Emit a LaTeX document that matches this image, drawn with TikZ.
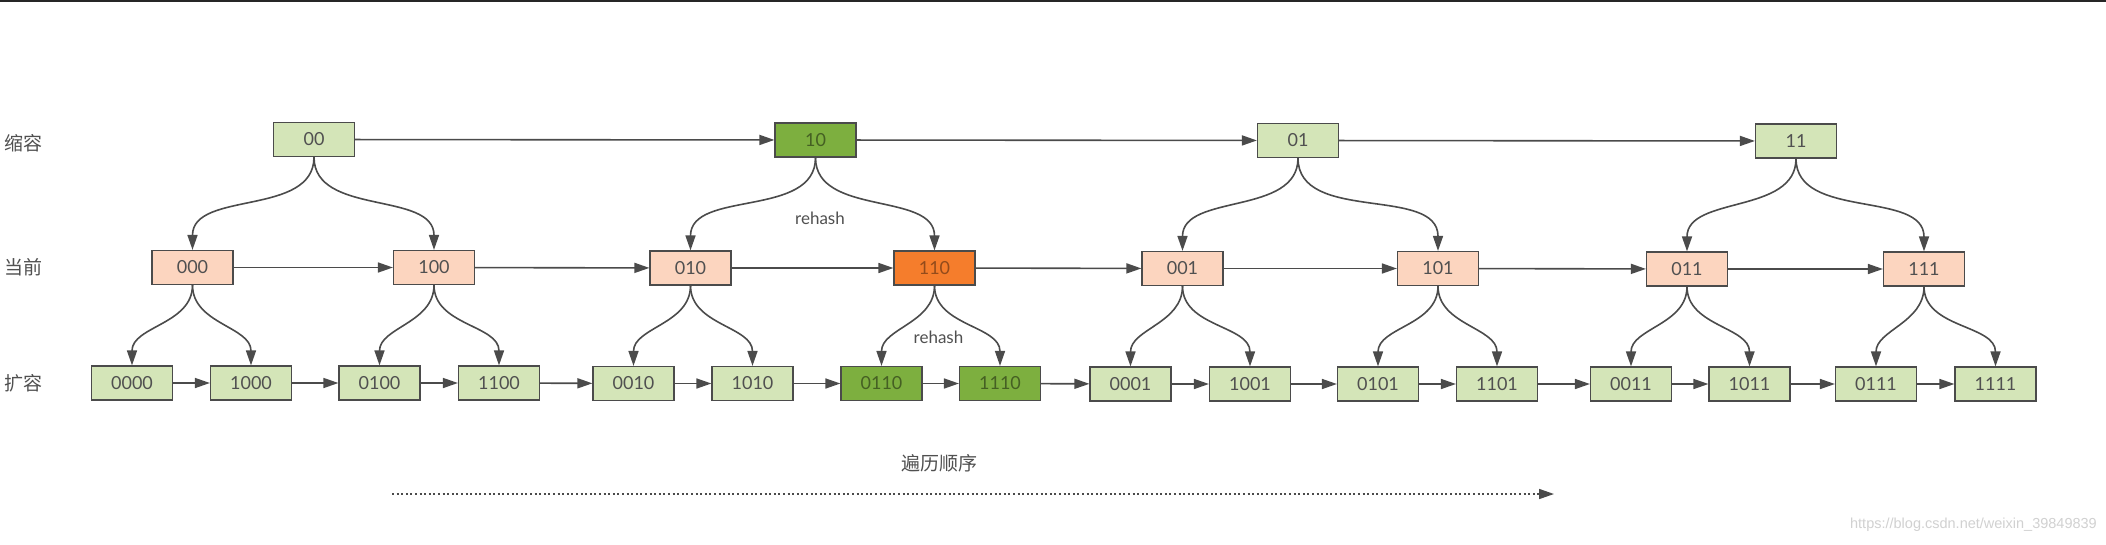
\documentclass[tikz,border=0pt]{standalone}
\usepackage{fontspec}
\setmainfont{Lato}
\newfontfamily\cjk{Noto Sans CJK SC}
\newfontfamily\wmfont{Liberation Sans}
\usetikzlibrary{arrows.meta}
\definecolor{linec}{HTML}{4B4B4B}
\definecolor{txtc}{HTML}{505050}
\definecolor{lgfill}{HTML}{D4E5B8}
\definecolor{dgfill}{HTML}{7DAF3F}
\definecolor{lofill}{HTML}{FCD5BF}
\definecolor{ogfill}{HTML}{F57D2C}
\tikzset{
  box/.style={draw=linec, line width=1.2pt, minimum width=81pt, minimum height=34pt,
    inner sep=0pt, font=\fontsize{18}{20}\selectfont, text=txtc},
  lg/.style={fill=lgfill},
  dg/.style={fill=dgfill, text=black!45!dgfill},
  lo/.style={fill=lofill},
  og/.style={fill=ogfill, text=black!40!ogfill},
  arr/.style={-{Triangle[length=15pt,width=10pt]}, line width=1.6pt, draw=linec},
  rowlab/.style={font=\cjk\fontsize{19}{21}\selectfont, text=txtc},
  note/.style={font=\fontsize{17}{19}\selectfont, text=txtc}
}
\begin{document}
\begin{tikzpicture}[x=1pt,y=-1pt]
\useasboundingbox (0,0) rectangle (2106,544);
\fill[white] (0,0) rectangle (2106,544);
\draw[line width=2pt, black!85] (0,1) -- (2106,1);

% row labels
\node[rowlab] (l1) at (24,143) {缩容};
\node[rowlab] (l2) at (24,267) {当前};
\node[rowlab] (l3) at (24,383) {扩容};

% top row
\node[box,lg] (t00) at (314,139.5) {00};
\node[box,dg] (t10) at (815.5,140) {10};
\node[box,lg] (t01) at (1298,140.5) {01};
\node[box,lg] (t11) at (1796,141) {11};

% middle row
\node[box,lo] (m000) at (192.5,267.5) {000};
\node[box,lo] (m100) at (434,267.5) {100};
\node[box,lo] (m010) at (690.5,268) {010};
\node[box,og] (m110) at (934.5,268) {110};
\node[box,lo] (m001) at (1182.5,268.5) {001};
\node[box,lo] (m101) at (1438,268.5) {101};
\node[box,lo] (m011) at (1687,269) {011};
\node[box,lo] (m111) at (1924,269) {111};

% bottom row
\node[box,lg] (b0000) at (132,383) {0000};
\node[box,lg] (b1000) at (251,383) {1000};
\node[box,lg] (b0100) at (379.5,383) {0100};
\node[box,lg] (b1100) at (499,383) {1100};
\node[box,lg] (b0010) at (633.5,383.5) {0010};
\node[box,lg] (b1010) at (752.5,383.5) {1010};
\node[box,dg] (b0110) at (881.5,383.5) {0110};
\node[box,dg] (b1110) at (1000,383.5) {1110};
\node[box,lg] (b0001) at (1130.5,384) {0001};
\node[box,lg] (b1001) at (1250,384) {1001};
\node[box,lg] (b0101) at (1378,384) {0101};
\node[box,lg] (b1101) at (1497,384) {1101};
\node[box,lg] (b0011) at (1631,384) {0011};
\node[box,lg] (b1011) at (1749.5,384) {1011};
\node[box,lg] (b0111) at (1876,384) {0111};
\node[box,lg] (b1111) at (1995.5,384) {1111};

% horizontal chains
\draw[arr] (t00) -- (t10);
\draw[arr] (t10) -- (t01);
\draw[arr] (t01) -- (t11);

\draw[arr] (m000) -- (m100);
\draw[arr] (m100) -- (m010);
\draw[arr] (m010) -- (m110);
\draw[arr] (m110) -- (m001);
\draw[arr] (m001) -- (m101);
\draw[arr] (m101) -- (m011);
\draw[arr] (m011) -- (m111);

\draw[arr] (b0000) -- (b1000);
\draw[arr] (b1000) -- (b0100);
\draw[arr] (b0100) -- (b1100);
\draw[arr] (b1100) -- (b0010);
\draw[arr] (b0010) -- (b1010);
\draw[arr] (b1010) -- (b0110);
\draw[arr] (b0110) -- (b1110);
\draw[arr] (b1110) -- (b0001);
\draw[arr] (b0001) -- (b1001);
\draw[arr] (b1001) -- (b0101);
\draw[arr] (b0101) -- (b1101);
\draw[arr] (b1101) -- (b0011);
\draw[arr] (b0011) -- (b1011);
\draw[arr] (b1011) -- (b0111);
\draw[arr] (b0111) -- (b1111);

% top -> middle
\draw[arr] (t00.south) to[out=-90,in=90] (m000.north);
\draw[arr] (t00.south) to[out=-90,in=90] (m100.north);
\draw[arr] (t10.south) to[out=-90,in=90] (m010.north);
\draw[arr] (t10.south) to[out=-90,in=90] (m110.north);
\draw[arr] (t01.south) to[out=-90,in=90] (m001.north);
\draw[arr] (t01.south) to[out=-90,in=90] (m101.north);
\draw[arr] (t11.south) to[out=-90,in=90] (m011.north);
\draw[arr] (t11.south) to[out=-90,in=90] (m111.north);

% middle -> bottom
\draw[arr] (m000.south) to[out=-90,in=90] (b0000.north);
\draw[arr] (m000.south) to[out=-90,in=90] (b1000.north);
\draw[arr] (m100.south) to[out=-90,in=90] (b0100.north);
\draw[arr] (m100.south) to[out=-90,in=90] (b1100.north);
\draw[arr] (m010.south) to[out=-90,in=90] (b0010.north);
\draw[arr] (m010.south) to[out=-90,in=90] (b1010.north);
\draw[arr] (m110.south) to[out=-90,in=90] (b0110.north);
\draw[arr] (m110.south) to[out=-90,in=90] (b1110.north);
\draw[arr] (m001.south) to[out=-90,in=90] (b0001.north);
\draw[arr] (m001.south) to[out=-90,in=90] (b1001.north);
\draw[arr] (m101.south) to[out=-90,in=90] (b0101.north);
\draw[arr] (m101.south) to[out=-90,in=90] (b1101.north);
\draw[arr] (m011.south) to[out=-90,in=90] (b0011.north);
\draw[arr] (m011.south) to[out=-90,in=90] (b1011.north);
\draw[arr] (m111.south) to[out=-90,in=90] (b0111.north);
\draw[arr] (m111.south) to[out=-90,in=90] (b1111.north);

% rehash labels
\node[note] (rh1) at (820,218) {rehash};
\node[note] (rh2) at (938.5,337) {rehash};

% traversal order
\node[rowlab] (order) at (939,463) {遍历顺序};
\coordinate (ds) at (392,494);
\coordinate (de) at (1554,494);
\draw[arr, dash pattern=on 2pt off 2.6pt] (ds) -- (de);

% watermark
\node[font=\wmfont\fontsize{14.5}{16}\selectfont, text=black!18, anchor=east, inner sep=0pt] (wm) at (2097,525) {https://blog.csdn.net/weixin\_39849839};
\end{tikzpicture}
\end{document}
